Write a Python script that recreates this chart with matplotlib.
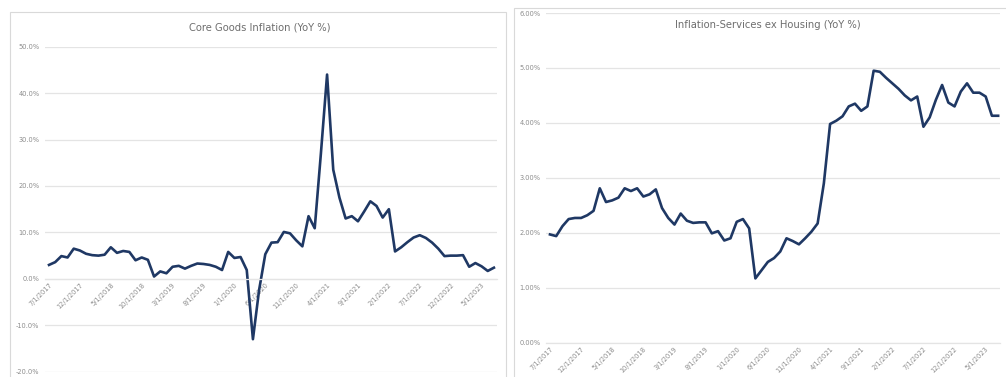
import matplotlib
matplotlib.use("Agg")
import matplotlib.pyplot as plt
from matplotlib.patches import Rectangle
import numpy as np

# ---------------- data ----------------
months = [f"{(6 + i) % 12 + 1}/1/{2017 + (6 + i) // 12}" for i in range(73)]  # 7/1/2017 .. 7/1/2023

core_goods = [
    3.0, 3.6, 4.9, 4.6, 6.5, 6.1, 5.4, 5.1, 5.0, 5.2,
    6.8, 5.6, 6.0, 5.8, 4.0, 4.6, 4.1, 0.5, 1.6, 1.2,
    2.6, 2.8, 2.2, 2.8, 3.3, 3.2, 3.0, 2.6, 1.9, 5.8,
    4.5, 4.7, 1.9, -13.0, -2.4, 5.3, 7.8, 7.9, 10.1, 9.8,
    8.3, 7.0, 13.5, 10.9, 27.0, 44.0, 23.5, 17.5, 13.0, 13.5,
    12.4, 14.5, 16.7, 15.7, 13.2, 15.0, 5.9, 6.8, 7.9, 8.9,
    9.4, 8.8, 7.8, 6.5, 4.9, 5.0, 5.0, 5.1, 2.6, 3.4,
    2.7, 1.7, 2.4,
]

services_ex_housing = [
    1.97, 1.94, 2.12, 2.25, 2.27, 2.27, 2.32, 2.40, 2.81, 2.56,
    2.59, 2.64, 2.81, 2.76, 2.81, 2.66, 2.70, 2.79, 2.45, 2.27,
    2.15, 2.35, 2.22, 2.18, 2.19, 2.19, 1.99, 2.03, 1.86, 1.90,
    2.20, 2.25, 2.08, 1.17, 1.32, 1.47, 1.54, 1.66, 1.90, 1.85,
    1.79, 1.90, 2.02, 2.17, 2.90, 3.98, 4.04, 4.12, 4.30, 4.35,
    4.22, 4.30, 4.95, 4.93, 4.82, 4.72, 4.62, 4.50, 4.41, 4.48,
    3.93, 4.10, 4.42, 4.69, 4.37, 4.30, 4.57, 4.72, 4.55, 4.55,
    4.48, 4.13, 4.13,
]

tick_positions = list(range(0, 73, 5))
tick_labels = [months[i] for i in tick_positions]

left_title = "Core Goods Inflation (YoY %)"
right_title = "Inflation-Services ex Housing (YoY %)"
left_yticks = [-20, -10, 0, 10, 20, 30, 40, 50]
right_yticks = [0, 1, 2, 3, 4, 5, 6]

# ---------------- styling ----------------
W, H = 1006, 377
LINE = "#1f3864"
GRID = "#e4e4e4"
TXT = "#8c8c8c"
TITLE = "#6e6e6e"

fig = plt.figure(figsize=(W / 100, H / 100), dpi=100)
fig.patch.set_facecolor("white")

def fx(px):
    return px / W

def fy(py):
    return 1 - py / H

# panel borders
fig.patches.append(Rectangle((fx(10), fy(390)), fx(506 - 10), (390 - 12) / H,
                             transform=fig.transFigure, fill=False,
                             edgecolor="#d9d9d9", lw=0.8))
fig.patches.append(Rectangle((fx(514), fy(390)), fx(1010 - 514), (390 - 8) / H,
                             transform=fig.transFigure, fill=False,
                             edgecolor="#d9d9d9", lw=0.8))

x = np.arange(len(months))

def style(ax, yticks, fmt):
    ax.set_yticks(yticks)
    ax.set_yticklabels([fmt.format(v) for v in yticks])
    ax.yaxis.grid(True, color=GRID, lw=0.9)
    ax.set_axisbelow(True)
    for s in ["left", "right", "top"]:
        ax.spines[s].set_visible(False)
    ax.spines["bottom"].set_color(GRID)
    ax.spines["bottom"].set_linewidth(0.9)
    ax.tick_params(axis="y", length=0, pad=4, labelsize=4.8, labelcolor=TXT)
    ax.tick_params(axis="x", length=0, pad=2, labelsize=4.8, labelcolor=TXT)
    ax.set_xticks(tick_positions)
    ax.set_xticklabels(tick_labels, rotation=45, ha="right", rotation_mode="anchor")
    ax.set_facecolor("none")

# left chart
axL = fig.add_axes([fx(45), fy(371.7), fx(497 - 45), (371.7 - 46.7) / H])
axL.spines["bottom"].set_position(("data", 0))
axL.plot(x, core_goods, color=LINE, lw=1.9, solid_joinstyle="round")
axL.set_xlim(-0.65, 72.5)
axL.set_ylim(-20, 50)
style(axL, left_yticks, "{:.1f}%")
fig.text(fx(260), fy(28), left_title, ha="center", va="center", fontsize=7.2, color=TITLE)

# right chart
axR = fig.add_axes([fx(546), fy(342.7), fx(1000 - 546), (342.7 - 13) / H])
axR.plot(x, services_ex_housing, color=LINE, lw=1.9, solid_joinstyle="round")
axR.set_xlim(-0.64, 72.3)
axR.set_ylim(0, 6)
style(axR, right_yticks, "{:.2f}%")
fig.text(fx(768), fy(25), right_title, ha="center", va="center", fontsize=7.2, color=TITLE)

fig.savefig("out.png", dpi=100, facecolor="white")
